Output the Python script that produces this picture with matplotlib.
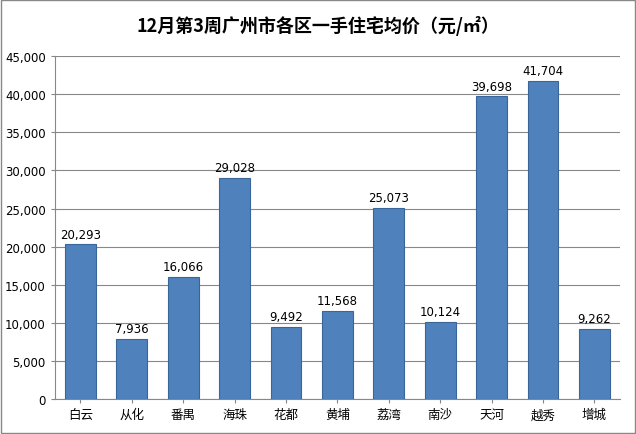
import matplotlib
matplotlib.use("Agg")
import matplotlib.pyplot as plt
from matplotlib.patches import Rectangle

plt.rcParams["font.family"] = ["Noto Sans CJK SC", "DejaVu Sans"]

districts = ["白云", "从化", "番禺", "海珠", "花都", "黄埔", "荔湾", "南沙", "天河", "越秀", "增城"]
prices = [20293, 7936, 16066, 29028, 9492, 11568, 25073, 10124, 39698, 41704, 9262]
yticks = list(range(0, 45001, 5000))

fig = plt.figure(figsize=(6.36, 4.35), dpi=100)
ax = fig.add_axes([0.086, 0.080, 0.889, 0.789])
fig.patches.append(Rectangle((0.002, 0.002), 0.996, 0.996, transform=fig.transFigure,
                             fill=False, edgecolor="#888888", linewidth=1))

x = range(len(districts))
ax.bar(x, prices, width=0.6, color="#4F81BD", edgecolor="#3A6598", linewidth=0.8, zorder=3)
for i, v in enumerate(prices):
    ax.text(i, v + 500, f"{v:,}", ha="center", va="bottom", fontsize=8.5, fontfamily="DejaVu Sans")

ax.set_xlim(-0.5, len(districts) - 0.5)
ax.set_ylim(0, 45000)
ax.set_yticks(yticks)
ax.set_yticklabels([f"{t:,}" for t in yticks], fontsize=8.5, fontfamily="DejaVu Sans")
ax.set_xticks(list(x))
ax.set_xticklabels(districts, fontsize=9)
ax.yaxis.grid(True, color="#888888", linewidth=0.8, zorder=0)
ax.tick_params(axis="both", length=3, color="#888888")
for s in ["top", "right"]:
    ax.spines[s].set_visible(False)
ax.spines["left"].set_color("#888888")
ax.spines["bottom"].set_color("#888888")

fig.text(0.5, 0.94, "12月第3周广州市各区一手住宅均价（元/㎡）", ha="center", va="center",
         fontsize=13, fontweight="bold")

fig.savefig("out.png", dpi=100)
